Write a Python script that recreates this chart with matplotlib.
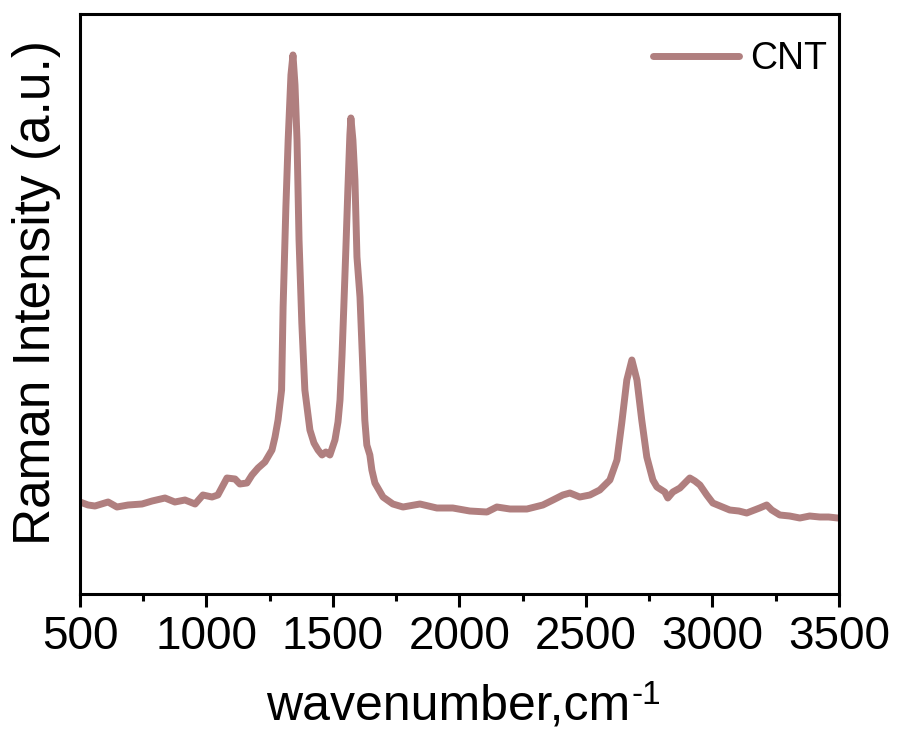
import matplotlib
matplotlib.use("Agg")
import matplotlib.pyplot as plt
from matplotlib.ticker import MultipleLocator

plt.rcParams['font.family'] = ['Liberation Sans', 'DejaVu Sans']

# Raman spectrum of CNT (wavenumber in cm^-1, intensity in arbitrary units)
wavenumber = [500, 532, 559, 611, 646, 690, 745, 785, 836, 875, 915, 955,
              986, 1022, 1045, 1081, 1113, 1132, 1160, 1180, 1204, 1231, 1259,
              1271, 1283, 1297, 1303, 1314, 1323, 1334, 1342, 1350, 1358, 1366,
              1377, 1389, 1409, 1425, 1441, 1457, 1472, 1488, 1508, 1520, 1528,
              1536, 1543, 1551, 1559, 1567, 1571, 1579, 1587, 1595, 1607, 1619,
              1626, 1634, 1646, 1654, 1666, 1698, 1737, 1777, 1844, 1911, 1974,
              2041, 2109, 2148, 2200, 2267, 2330, 2370, 2409, 2437, 2476, 2516,
              2555, 2595, 2623, 2642, 2662, 2682, 2702, 2721, 2741, 2765, 2781,
              2812, 2824, 2844, 2872, 2911, 2931, 2951, 2978, 3002, 3069, 3105,
              3136, 3187, 3215, 3235, 3267, 3306, 3346, 3385, 3425, 3460, 3496]
intensity = [92, 89, 88, 92, 87, 89, 90, 93, 96, 92, 94, 90,
             99, 97, 99, 116, 115, 110, 111, 119, 126, 132, 144,
             157, 174, 204, 287, 387, 454, 519, 539, 509, 454, 354,
             271, 204, 164, 151, 144, 139, 142, 139, 154, 172, 194,
             239, 287, 344, 404, 459, 476, 454, 414, 337, 297, 221,
             174, 149, 139, 124, 111, 97, 90, 87, 90, 86, 86,
             83, 82, 87, 85, 85, 89, 94, 99, 101, 97, 99,
             104, 114, 134, 171, 214, 234, 214, 174, 137, 114, 107,
             102, 96, 102, 106, 116, 113, 109, 99, 91, 84, 83,
             81, 86, 89, 84, 79, 78, 76, 78, 77, 77, 76]

fig = plt.figure(figsize=(8.99, 7.31), dpi=100)
ax = fig.add_axes([0.089, 0.1874, 0.844, 0.7935])

ax.plot(wavenumber, intensity, color='#B07F7F', lw=5.0, label='CNT',
        solid_joinstyle='round', solid_capstyle='round')

ax.set_xlim(500, 3500)
ax.set_ylim(0, 580)
ax.xaxis.set_major_locator(MultipleLocator(500))
ax.xaxis.set_minor_locator(MultipleLocator(250))
ax.set_yticks([])

for s in ax.spines.values():
    s.set_linewidth(2.2)
ax.tick_params(axis='x', which='major', direction='out', length=9, width=2.2,
               labelsize=33, pad=6)
ax.tick_params(axis='x', which='minor', direction='out', length=5, width=2.2)

xlab = ax.set_xlabel('wavenumber,cm', fontsize=36)
ax.xaxis.set_label_coords(0.485, -0.155)
ax.annotate('-1', xy=(1, 1), xycoords=xlab, xytext=(1, 3),
            textcoords='offset points', fontsize=24, ha='left', va='top')

ax.set_ylabel('Raman Intensity (a.u.)', fontsize=37)
ax.yaxis.set_label_coords(-0.025, 0.52)

leg = ax.legend(loc='upper right', frameon=False, fontsize=27,
                handlelength=2.3, handletextpad=0.3, borderaxespad=0.2,
                bbox_to_anchor=(1.0145, 0.992))

fig.savefig('out.png', dpi=100)
